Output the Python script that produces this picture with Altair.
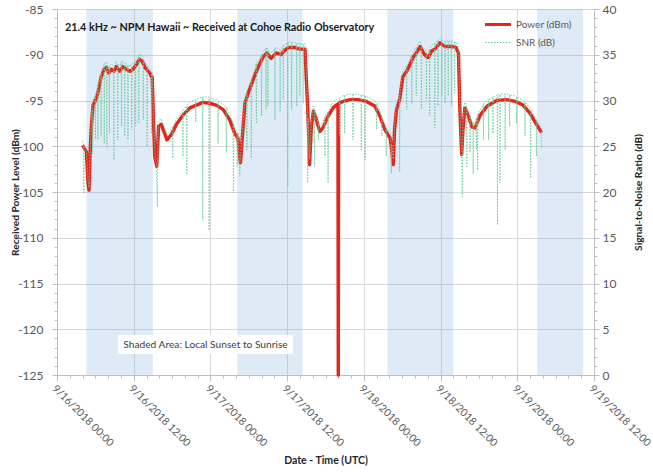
import json
import altair as alt
import pandas as pd

# ---------------- data ----------------
tick_labels = ["9/16/2018 00:00", "9/16/2018 12:00", "9/17/2018 00:00", "9/17/2018 12:00",
               "9/18/2018 00:00", "9/18/2018 12:00", "9/19/2018 00:00", "9/19/2018 12:00"]

# hours since 9/16/2018 00:00 UTC
night_start = [4.6, 28.2, 51.7, 75.1]
night_end = [15.0, 38.4, 62.0, 82.3]

power_points = [
    (4.0, -99.9), (4.6, -100.6), (4.85, -104.0), (5.0, -104.8), (5.15, -101.1), (5.4, -97.5),
    (5.65, -95.5), (6.2, -94.7), (6.6, -93.5), (6.9, -92.4), (7.4, -91.6), (7.7, -91.4),
    (8.1, -92.0), (8.5, -91.6), (8.9, -91.8), (9.3, -91.3), (9.8, -91.8), (10.3, -91.3),
    (10.9, -91.6), (11.4, -91.8), (11.9, -91.6), (12.4, -91.1), (12.9, -90.5), (13.3, -90.7),
    (13.8, -91.4), (14.5, -92.0), (14.9, -92.5), (15.1, -97.4), (15.3, -101.1), (15.6, -102.2),
    (15.9, -97.8), (16.3, -97.6), (16.9, -98.7), (17.2, -99.3), (17.9, -98.7), (18.7, -97.6),
    (19.7, -96.6), (20.8, -95.8), (21.8, -95.5), (22.8, -95.2), (23.9, -95.3), (24.9, -95.5),
    (26.0, -96.0), (27.0, -97.1), (27.8, -98.6), (28.3, -99.1), (28.7, -101.8), (29.0, -98.9),
    (29.4, -95.3), (29.9, -94.2), (30.7, -92.7), (31.5, -91.3), (32.2, -90.3), (32.8, -89.8),
    (33.5, -90.4), (34.3, -89.8), (35.1, -90.0), (35.5, -89.6), (36.2, -89.2), (37.2, -89.2),
    (38.0, -89.4), (38.8, -89.4), (39.0, -92.7), (39.2, -95.6), (39.4, -99.3), (39.5, -102.0),
    (39.8, -97.8), (40.1, -96.2), (40.4, -96.7), (41.1, -98.4), (41.6, -98.0), (42.4, -96.7),
    (43.2, -95.8), (43.7, -95.5), (43.95, -95.4), (44.0, -125.0), (44.05, -95.3), (44.8, -95.1),
    (45.8, -94.9), (47.1, -94.9), (48.4, -95.1), (49.7, -95.6), (50.5, -96.7), (51.3, -98.2),
    (52.1, -99.1), (52.3, -100.0), (52.6, -102.0), (52.8, -98.2), (53.1, -96.0), (53.6, -94.9),
    (54.1, -92.4), (54.7, -91.8), (55.2, -91.1), (55.7, -90.3), (56.2, -89.8), (56.8, -89.1),
    (57.5, -90.0), (58.1, -90.3), (58.6, -89.6), (59.1, -89.4), (59.9, -88.7), (60.7, -89.1),
    (61.7, -89.1), (62.4, -89.2), (62.8, -89.8), (63.0, -95.6), (63.3, -100.9), (63.5, -98.2),
    (63.8, -95.8), (64.3, -96.6), (64.9, -97.9), (65.4, -98.0), (66.2, -96.6), (67.3, -95.6),
    (68.8, -95.0), (70.3, -94.9), (71.7, -95.1), (72.9, -95.5), (74.0, -96.4), (75.0, -97.6),
    (75.8, -98.5),
]

snr_points = [
    (4.0, 25.6), (4.15, 25.2), (4.2, 19.8), (4.25, 25.0), (4.6, 24.6), (4.85, 21.5), (5.0, 20.5),
    (5.15, 23.8), (5.4, 28.1), (5.5, 29.0), (5.55, 24.2), (5.6, 29.6), (5.65, 30.1), (5.95, 30.5),
    (6.0, 25.8), (6.05, 30.6), (6.2, 30.9), (6.35, 31.6), (6.4, 25.7), (6.45, 31.8), (6.6, 32.1),
    (6.85, 32.9), (6.9, 26.1), (6.95, 33.2), (7.35, 33.9), (7.4, 25.3), (7.45, 34.0), (7.7, 34.2),
    (7.75, 34.1), (7.8, 24.8), (7.85, 33.9), (8.1, 33.6), (8.15, 33.7), (8.2, 26.4), (8.25, 33.8),
    (8.5, 34.0), (8.85, 33.8), (8.9, 23.5), (8.95, 33.8), (9.3, 34.3), (9.45, 34.0), (9.5, 25.7),
    (9.55, 33.9), (9.8, 33.8), (10.05, 34.2), (10.1, 27.2), (10.15, 34.3), (10.3, 34.3),
    (10.55, 34.1), (10.6, 26.1), (10.65, 34.0), (10.9, 34.0), (11.05, 33.9), (11.1, 25.7),
    (11.15, 33.8), (11.4, 33.8), (11.65, 33.9), (11.7, 26.8), (11.75, 34.0), (12.25, 34.3),
    (12.3, 27.2), (12.35, 34.5), (12.75, 34.9), (12.8, 27.5), (12.85, 35.1), (13.3, 34.9),
    (13.45, 34.6), (13.5, 27.9), (13.55, 34.5), (13.8, 34.2), (14.05, 33.9), (14.1, 25.0),
    (14.15, 33.8), (14.5, 33.6), (14.75, 33.3), (14.8, 26.4), (14.85, 33.1), (14.9, 33.0),
    (15.1, 28.2), (15.3, 24.5), (15.5, 23.6), (15.7, 18.4), (15.8, 26.0), (15.9, 27.8),
    (16.3, 28.0), (16.9, 26.9), (17.2, 26.3), (17.9, 26.9), (18.05, 27.1), (18.1, 23.7),
    (18.15, 27.2), (18.7, 28.0), (19.65, 28.9), (19.7, 23.9), (19.75, 29.0), (20.25, 29.4),
    (20.3, 21.9), (20.35, 29.5), (20.8, 29.8), (21.65, 30.1), (21.7, 27.6), (21.75, 30.1),
    (22.75, 30.4), (22.8, 16.9), (22.85, 30.4), (23.75, 30.4), (23.8, 15.8), (23.85, 30.3),
    (24.9, 30.1), (25.15, 29.9), (25.2, 25.3), (25.25, 29.9), (26.0, 29.6), (26.45, 29.3),
    (26.5, 24.3), (26.55, 29.2), (27.0, 28.5), (27.55, 27.5), (27.6, 19.9), (27.65, 27.4),
    (27.8, 27.0), (28.15, 26.6), (28.2, 22.8), (28.3, 26.5), (28.6, 21.7), (28.7, 23.8),
    (29.0, 26.7), (29.4, 30.3), (29.65, 31.0), (29.7, 24.6), (29.75, 31.1), (29.9, 31.4),
    (30.35, 32.2), (30.4, 23.7), (30.45, 32.3), (30.7, 32.9), (31.15, 34.1), (31.2, 27.5),
    (31.25, 34.2), (31.5, 34.3), (31.95, 35.0), (32.0, 28.3), (32.05, 35.1), (32.2, 35.3),
    (32.65, 35.7), (32.7, 29.0), (32.75, 35.8), (32.95, 35.6), (33.0, 29.4), (33.05, 35.5),
    (33.5, 35.2), (34.05, 35.6), (34.1, 27.9), (34.15, 35.8), (34.3, 35.8), (34.85, 35.6),
    (34.9, 28.8), (34.95, 35.6), (35.35, 36.0), (35.4, 30.1), (35.45, 36.0), (36.05, 36.3),
    (36.1, 20.6), (36.15, 36.4), (36.65, 36.4), (36.7, 29.0), (36.75, 36.4), (37.45, 36.3),
    (37.5, 29.4), (37.55, 36.3), (37.95, 36.2), (38.0, 30.5), (38.05, 36.2), (38.45, 36.2),
    (38.5, 29.7), (38.55, 36.2), (38.8, 36.2), (39.0, 33.0), (39.15, 30.0), (39.2, 21.0),
    (39.3, 28.0), (39.5, 23.6), (39.8, 27.8), (40.1, 29.4), (40.25, 29.1), (40.3, 22.8),
    (40.35, 29.0), (40.85, 27.6), (40.9, 25.7), (40.95, 27.5), (41.1, 27.2), (41.6, 27.6),
    (41.85, 28.2), (41.9, 23.9), (41.95, 28.3), (42.35, 28.8), (42.4, 21.0), (42.45, 28.9),
    (43.2, 29.8), (43.7, 30.1), (44.15, 30.3), (44.2, 26.1), (44.25, 30.3), (44.95, 30.6),
    (45.0, 26.4), (45.05, 30.6), (45.8, 30.7), (46.25, 30.7), (46.3, 25.7), (46.35, 30.7),
    (47.1, 30.7), (47.55, 30.6), (47.6, 24.6), (47.65, 30.6), (48.15, 30.5), (48.2, 23.5),
    (48.25, 30.5), (49.7, 30.0), (49.95, 29.7), (50.0, 26.8), (50.05, 29.6), (50.5, 28.9),
    (50.75, 28.2), (50.8, 26.1), (50.85, 28.0), (51.3, 27.4), (51.45, 27.1), (51.5, 23.9),
    (51.55, 27.0), (52.1, 26.5), (52.25, 25.8), (52.3, 22.0), (52.35, 25.2), (52.6, 23.6),
    (52.8, 27.4), (53.1, 29.6), (53.55, 30.6), (53.6, 22.2), (53.65, 30.8), (54.1, 33.2),
    (54.65, 33.8), (54.7, 29.0), (54.75, 33.9), (55.2, 34.5), (55.45, 35.0), (55.5, 29.7),
    (55.55, 35.1), (55.7, 35.3), (56.15, 35.8), (56.2, 30.5), (56.25, 35.9), (56.8, 36.5),
    (56.95, 36.2), (57.0, 29.0), (57.05, 36.0), (57.5, 35.6), (57.75, 35.4), (57.8, 30.1),
    (57.85, 35.3), (58.1, 35.3), (58.25, 35.6), (58.3, 28.3), (58.35, 35.8), (58.6, 36.0),
    (59.05, 36.2), (59.1, 27.0), (59.15, 36.3), (59.55, 36.6), (59.6, 29.4), (59.65, 36.7),
    (59.9, 36.9), (60.15, 36.7), (60.2, 30.5), (60.25, 36.6), (60.65, 36.5), (60.7, 29.7),
    (60.75, 36.5), (61.15, 36.5), (61.2, 30.5), (61.25, 36.5), (61.65, 36.5), (61.7, 29.4),
    (61.75, 36.5), (62.15, 36.4), (62.2, 30.8), (62.25, 36.4), (62.4, 36.4), (62.8, 35.8),
    (63.0, 30.0), (63.2, 25.5), (63.3, 24.7), (63.4, 19.5), (63.5, 27.4), (63.8, 29.8),
    (64.05, 29.4), (64.1, 22.8), (64.15, 29.2), (64.55, 28.6), (64.6, 24.3), (64.65, 28.3),
    (64.9, 27.7), (65.05, 27.6), (65.1, 22.0), (65.15, 27.6), (65.4, 27.6), (65.55, 28.0),
    (65.6, 24.6), (65.65, 28.2), (65.75, 28.4), (65.8, 22.4), (65.85, 28.6), (66.2, 29.0),
    (66.65, 29.6), (66.7, 25.7), (66.75, 29.7), (67.3, 30.0), (67.45, 30.1), (67.5, 25.7),
    (67.55, 30.1), (68.15, 30.4), (68.2, 26.4), (68.25, 30.4), (68.85, 30.6), (68.9, 16.4),
    (68.95, 30.6), (69.25, 30.7), (69.3, 21.0), (69.35, 30.7), (70.05, 30.7), (70.1, 24.6),
    (70.15, 30.7), (70.75, 30.7), (70.8, 27.2), (70.85, 30.6), (71.7, 30.5), (71.85, 30.4),
    (71.9, 27.5), (71.95, 30.4), (72.9, 30.1), (73.15, 29.9), (73.2, 26.1), (73.25, 29.8),
    (74.0, 29.2), (74.05, 29.1), (74.1, 21.5), (74.15, 29.0), (74.95, 28.0), (75.0, 23.9),
    (75.05, 27.9), (75.75, 27.1), (75.8, 24.8),
]

chart_title = "21.4 kHz ~ NPM Hawaii ~ Received at Cohoe Radio Observatory"
note_text = "Shaded Area: Local Sunset to Sunrise"
legend_labels = ["Power (dBm)", "SNR (dB)"]

# ---------------- tables ----------------
bands = pd.DataFrame({"start": night_start, "end": night_end})
power = pd.DataFrame(power_points, columns=["h", "dbm"])
snr = pd.DataFrame(snr_points, columns=["h", "snr"])

FONT = "Lato"
AXC = "#BFBFBF"
GRID = "#D9D9D9"
LBL = "#595959"
TTL = "#262626"
RED = "#E3261C"
GREEN = "#6CCB9A"

m12 = "datum.value % 12 === 0"
m5 = "datum.value % 5 === 0"

x_scale = alt.Scale(domain=[0, 84], nice=False, zero=False)
x_axis = alt.Axis(
    values=list(range(0, 85, 2)),
    labelExpr=f"{m12} ? {json.dumps(tick_labels)}[datum.value / 12] : ''",
    labelAngle=45, labelFont=FONT, labelFontSize=10.5, labelColor=LBL,
    labelPadding=2, labelOverlap=False, labelFlush=False, labelBound=False,
    tickSize={"condition": {"test": m12, "value": 6}, "value": 3},
    tickColor=AXC, domainColor=AXC,
    grid=True, gridColor=GRID,
    gridOpacity={"condition": {"test": m12, "value": 1}, "value": 0},
    title="Date - Time (UTC)", titleFont=FONT, titleFontSize=10.5,
    titleFontWeight="bold", titleColor=TTL, titlePadding=7,
)

y_left = alt.Axis(
    orient="left", values=list(range(-125, -84)),
    labelExpr=f"{m5} ? '' + datum.value : ''",
    labelFont=FONT, labelFontSize=12, labelColor=LBL, labelPadding=9, labelOverlap=False,
    tickSize={"condition": {"test": m5, "value": 5}, "value": 3},
    tickColor=AXC, domainColor=AXC,
    grid=True, gridColor=GRID,
    gridOpacity={"condition": {"test": m5, "value": 1}, "value": 0},
    title="Received Power Level (dBm)", titleFont=FONT, titleFontSize=10.2,
    titleFontWeight="bold", titleColor=TTL, titlePadding=-3,
)

y_right = alt.Axis(
    orient="right", values=list(range(0, 41)),
    labelExpr=f"{m5} ? '' + datum.value : ''",
    labelFont=FONT, labelFontSize=12, labelColor=LBL, labelPadding=3, labelOverlap=False,
    tickSize={"condition": {"test": m5, "value": 5}, "value": 3},
    tickColor=AXC, domainColor=AXC, grid=False,
    title="Signal-to-Noise Ratio (dB)", titleFont=FONT, titleFontSize=10.2,
    titleFontWeight="bold", titleColor=TTL, titlePadding=28, titleAngle=270,
)

band_layer = alt.Chart(bands).mark_rect(color="#5B9BD5", opacity=0.2).encode(
    x=alt.X("start:Q", scale=x_scale, axis=x_axis),
    x2="end:Q",
)

note_box = alt.Chart(pd.DataFrame({"t": [note_text]})).mark_rect(color="white").encode(
    x=alt.value(61), x2=alt.value(236), y=alt.value(326), y2=alt.value(345)
)
note_lbl = alt.Chart(pd.DataFrame({"t": [note_text]})).mark_text(
    font=FONT, fontSize=10.2, color="#404040", align="center", baseline="middle"
).encode(x=alt.value(148.5), y=alt.value(336), text="t:N")

power_layer = alt.Chart(power).mark_line(color=RED, strokeWidth=3.4, strokeJoin="round").encode(
    x=alt.X("h:Q", scale=x_scale, axis=x_axis),
    y=alt.Y("dbm:Q", scale=alt.Scale(domain=[-125, -85], nice=False, zero=False), axis=y_left),
    order="h:Q",
)

snr_layer = alt.Chart(snr).mark_line(color=GREEN, strokeWidth=1.0, strokeDash=[1.5, 1.5], opacity=0.9).encode(
    x=alt.X("h:Q", scale=x_scale, axis=x_axis),
    y=alt.Y("snr:Q", scale=alt.Scale(domain=[0, 40], nice=False, zero=False), axis=y_right),
    order="h:Q",
)

title_layer = alt.Chart(pd.DataFrame({"t": [chart_title]})).mark_text(
    font=FONT, fontSize=10.8, fontWeight="bold", color="#1a1a1a", align="left", baseline="middle"
).encode(x=alt.value(8), y=alt.value(18.5), text="t:N")

leg_red = alt.Chart(pd.DataFrame({"t": [legend_labels[0]]})).mark_rule(color=RED, strokeWidth=3).encode(
    x=alt.value(428), x2=alt.value(454), y=alt.value(15.5)
)
leg_green = alt.Chart(pd.DataFrame({"t": [legend_labels[1]]})).mark_rule(
    color=GREEN, strokeWidth=1.1, strokeDash=[1.5, 1.5]
).encode(x=alt.value(428), x2=alt.value(454), y=alt.value(33.5))
leg_text = alt.Chart(pd.DataFrame({"t": legend_labels, "yy": [15.5, 33.5]})).mark_text(
    font=FONT, fontSize=10, color=LBL, align="left", baseline="middle"
).encode(x=alt.value(459), y=alt.Y("yy:Q", scale=None, axis=None), text="t:N")

chart = alt.layer(
    band_layer, note_box, note_lbl, power_layer, snr_layer, title_layer, leg_red, leg_green, leg_text
).resolve_scale(y="independent").properties(
    width=537, height=366,
    autosize=alt.AutoSizeParams(type="none"),
    padding={"left": 57, "top": 9, "right": 59, "bottom": 97},
    background="white",
).configure_view(stroke=None)

chart.save("out.html", embed_options={"renderer": "svg", "actions": False})
